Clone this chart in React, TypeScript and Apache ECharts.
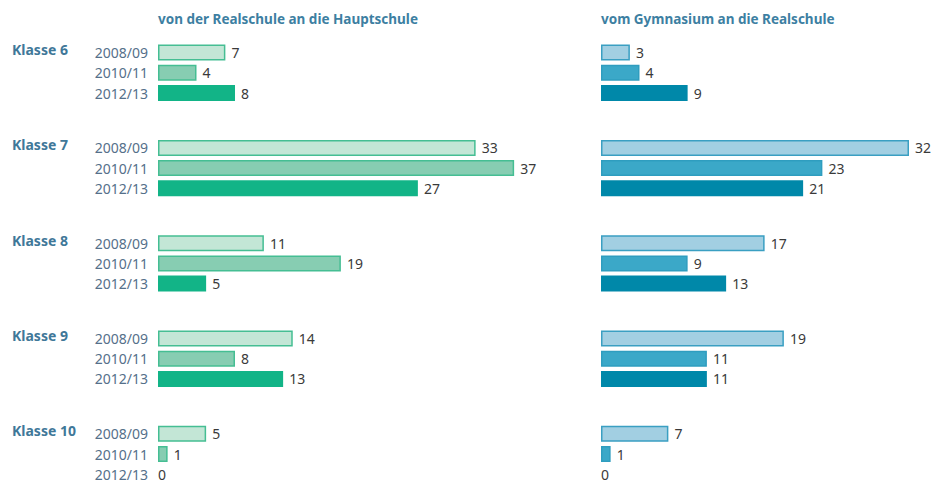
import React, { useEffect, useRef } from "react";
import * as echarts from "echarts";

const classes = ["Klasse 6", "Klasse 7", "Klasse 8", "Klasse 9", "Klasse 10"];
const years = ["2008/09", "2010/11", "2012/13"];
const titles = ["von der Realschule an die Hauptschule", "vom Gymnasium an die Realschule"];

// values per year, per class
const leftValues = [
  [7, 33, 11, 14, 5], // 2008/09
  [4, 37, 19, 8, 1], // 2010/11
  [8, 27, 5, 13, 0], // 2012/13
];
const rightValues = [
  [3, 32, 17, 19, 7],
  [4, 23, 9, 11, 1],
  [9, 21, 13, 11, 0],
];

const leftFill = ["#c3e6d6", "#87cdb2", "#12b487"];
const leftBorder = ["#45be93", "#45be93", "#12b487"];
const rightFill = ["#a2cfe2", "#3ba8c8", "#0088a9"];
const rightBorder = ["#3a9fc2", "#2f9dbf", "#0088a9"];

const FONT = "'Noto Sans', 'Open Sans', sans-serif";

export default function App() {
  const ref = useRef<HTMLDivElement>(null);
  useEffect(() => {
    document.body.style.margin = "0";
    if (!ref.current) return;
    const chart = echarts.init(ref.current, undefined, { renderer: "svg" });

    const pxPerUnit = 9.625;
    const gridWidth = 385;
    const axisMax = gridWidth / pxPerUnit;
    const groupTop0 = 42.5;
    const groupPitch = 95.3;
    const groupHeight = 60.6;
    const sides = [
      { left: 158, values: leftValues, fill: leftFill, border: leftBorder, showLabels: true },
      { left: 601, values: rightValues, fill: rightFill, border: rightBorder, showLabels: false },
    ];
    const grid: any[] = [];
    const xAxis: any[] = [];
    const yAxis: any[] = [];
    const series: any[] = [];
    const graphic: any[] = [];

    sides.forEach((side, s) => {
      classes.forEach((cls, c) => {
        const idx = grid.length;
        const top = groupTop0 + c * groupPitch;
        grid.push({ left: side.left, top, width: gridWidth, height: groupHeight, containLabel: false });
        xAxis.push({
          type: "value",
          gridIndex: idx,
          min: 0,
          max: axisMax,
          show: false,
        });
        yAxis.push({
          type: "category",
          gridIndex: idx,
          data: years,
          inverse: true,
          axisLine: { show: false },
          axisTick: { show: false },
          splitLine: { show: false },
          axisLabel: {
            show: side.showLabels,
            margin: 10,
            color: "#55708a",
            fontFamily: FONT,
            fontSize: 14,
          },
        });
        series.push({
          type: "bar",
          xAxisIndex: idx,
          yAxisIndex: idx,
          barWidth: 16,
          data: years.map((_, y) => {
            const v = side.values[y][c];
            return {
              value: v,
              itemStyle: {
                color: side.fill[y],
                borderColor: side.border[y],
                borderWidth: y < 2 ? 1.5 : 0,
              },
              label: v === 0 ? { distance: 0 } : undefined,
            };
          }),
          label: {
            show: true,
            position: "right",
            distance: 6,
            color: "#3a3a3a",
            fontFamily: FONT,
            fontSize: 14,
          },
        });
        if (s === 0) {
          graphic.push({
            type: "text",
            left: 12,
            top: top + groupHeight / 6 - 10,
            style: {
              text: cls,
              fill: "#3f7899",
              font: `bold 14px ${FONT}`,
            },
          });
        }
      });
      graphic.push({
        type: "text",
        left: side.left,
        top: 12,
        style: {
          text: titles[s],
          fill: "#3d7fa2",
          font: `bold 13.5px ${FONT}`,
        },
      });
    });

    chart.setOption({
      animation: false,
      backgroundColor: "#ffffff",
      grid,
      xAxis,
      yAxis,
      series,
      graphic,
    });
    return () => chart.dispose();
  }, []);
  return (
    <div style={{ width: 936, height: 485, overflow: "hidden", position: "relative", background: "#ffffff" }}>
      <div ref={ref} style={{ width: 1050, height: 520 }} />
    </div>
  );
}
